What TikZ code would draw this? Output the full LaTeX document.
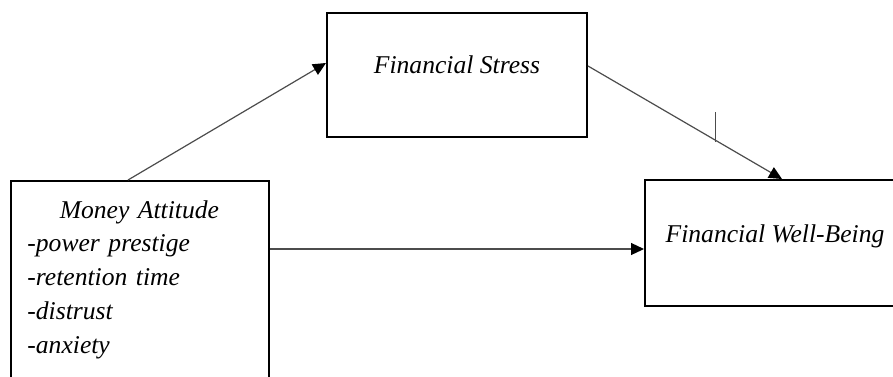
\documentclass[tikz,border=0pt]{standalone}
\usepackage{fontspec}
\setmainfont{Liberation Serif}
\usetikzlibrary{arrows.meta}

\begin{document}
\begin{tikzpicture}[x=0.5pt,y=-0.5pt,
    box/.style={draw,line width=1pt,inner sep=0pt},
    txt/.style={inner sep=0pt,font=\fontsize{12.8}{16.9}\selectfont\itshape},
    conn/.style={draw=black!70,line width=0.6pt,-{Triangle[length=6.5pt,width=6pt,color=black]}}]
            \clip (0,0) rectangle (893,376);

            %boxes
            \node[box,minimum width=129pt,minimum height=104.5pt] (money) at (140,285.5) {};

            \node[box,minimum width=130pt,minimum height=62pt] (stress) at (457,75) {};

            \node[box,minimum width=130pt,minimum height=63pt] (well) at (775,243) {};

            %texts
            \node[txt,text width=112pt,align=left,anchor=base west] (moneytxt) at (27,218)
                {\makebox[\linewidth]{Money Attitude}\\-power prestige\\-retention time\\-distrust\\-anxiety};

            \node[txt,anchor=base] (stresstxt) at (457,73) {Financial Stress};

            \node[txt,anchor=base] (welltxt) at (775,242) {Financial Well-Being};

            %arrows
            \draw[conn] ([xshift=-6pt]money.north) -- ([yshift=6pt]stress.west);

            \draw[conn] ([yshift=4.5pt]stress.east) -- coordinate[pos=0.656] (tick) ([xshift=3.5pt]well.north);

            \draw[draw=black!70,line width=0.6pt] ([yshift=-1pt]tick) -- ++(0pt,15pt);

            \draw[conn] ([yshift=18.25pt]money.east) -- ([yshift=-3pt]well.west);
        \end{tikzpicture}
\end{document}
